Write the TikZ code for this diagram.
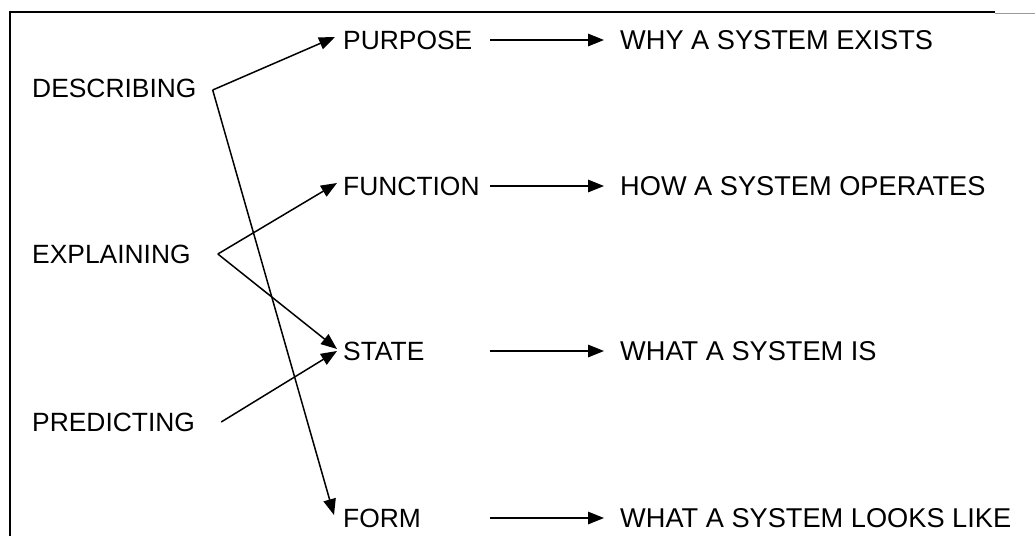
\documentclass[tikz,border=0pt]{standalone}
\usepackage{fontspec}
\setmainfont{Liberation Sans}
\usetikzlibrary{arrows.meta,calc}
\begin{document}
\begin{tikzpicture}[x=1pt,y=-1pt,
  lbl/.style={anchor=west,inner sep=0pt,font=\fontsize{26.4}{30}\selectfont,text height=18.9pt,text depth=0pt},
  rlbl/.style={lbl,font=\fontsize{27.2}{31}\selectfont},
  conn/.style={line width=1.5pt,-{Triangle[length=16pt,width=12.5pt]}}]
\useasboundingbox (0,0) rectangle (1035,536);
% frame
\draw[line width=2pt] (9.5,536) -- (9.5,12) -- (995,12);
\draw[line width=1pt,black!40] (995,13) -- (1035,13);
% left nodes
\node[lbl] (desc) at (32,88) {DESCRIBING};
\node[lbl] (expl) at (32,254) {EXPLAINING};
\node[lbl] (pred) at (32,422) {PREDICTING};
% middle nodes
\node[lbl] (purp) at (343,40) {PURPOSE};
\node[lbl] (func) at (343,186) {FUNCTION};
\node[lbl] (stat) at (343,351) {STATE};
\node[lbl] (form) at (343,518) {FORM};
% right nodes
\node[rlbl] (why) at (620,40) {WHY A SYSTEM EXISTS};
\node[rlbl] (how) at (620,186) {HOW A SYSTEM OPERATES};
\node[rlbl] (what) at (620,351) {WHAT A SYSTEM IS};
\node[rlbl] (look) at (620,518) {WHAT A SYSTEM LOOKS LIKE};
% vertices and tips
\coordinate (dv) at ($(desc.east)+(16,2)$);
\coordinate (ev) at ($(expl.east)+(27,0)$);
\coordinate (pv) at ($(pred.east)+(26,0)$);
\coordinate (tpurp) at ($(purp.west)+(-8,-3)$);
\coordinate (tfunc) at ($(func.west)+(-6,-3)$);
\coordinate (tstat1) at ($(stat.west)+(-6,-2)$);
\coordinate (tstat2) at ($(stat.west)+(-6,0)$);
\coordinate (tform) at ($(form.west)+(-9,-3)$);
% connectors
\draw[conn] (dv) -- (tpurp);
\draw[conn] (dv) -- (tform);
\draw[conn] (ev) -- (tfunc);
\draw[conn] (ev) -- (tstat1);
\draw[conn] (pv) -- (tstat2);
% horizontal arrows
\draw[conn] ($(why.west)+(-130,0)$) -- ($(why.west)+(-16,0)$);
\draw[conn] ($(how.west)+(-130,0)$) -- ($(how.west)+(-16,0)$);
\draw[conn] ($(what.west)+(-130,0)$) -- ($(what.west)+(-16,0)$);
\draw[conn] ($(look.west)+(-130,0)$) -- ($(look.west)+(-16,0)$);
\end{tikzpicture}
\end{document}
